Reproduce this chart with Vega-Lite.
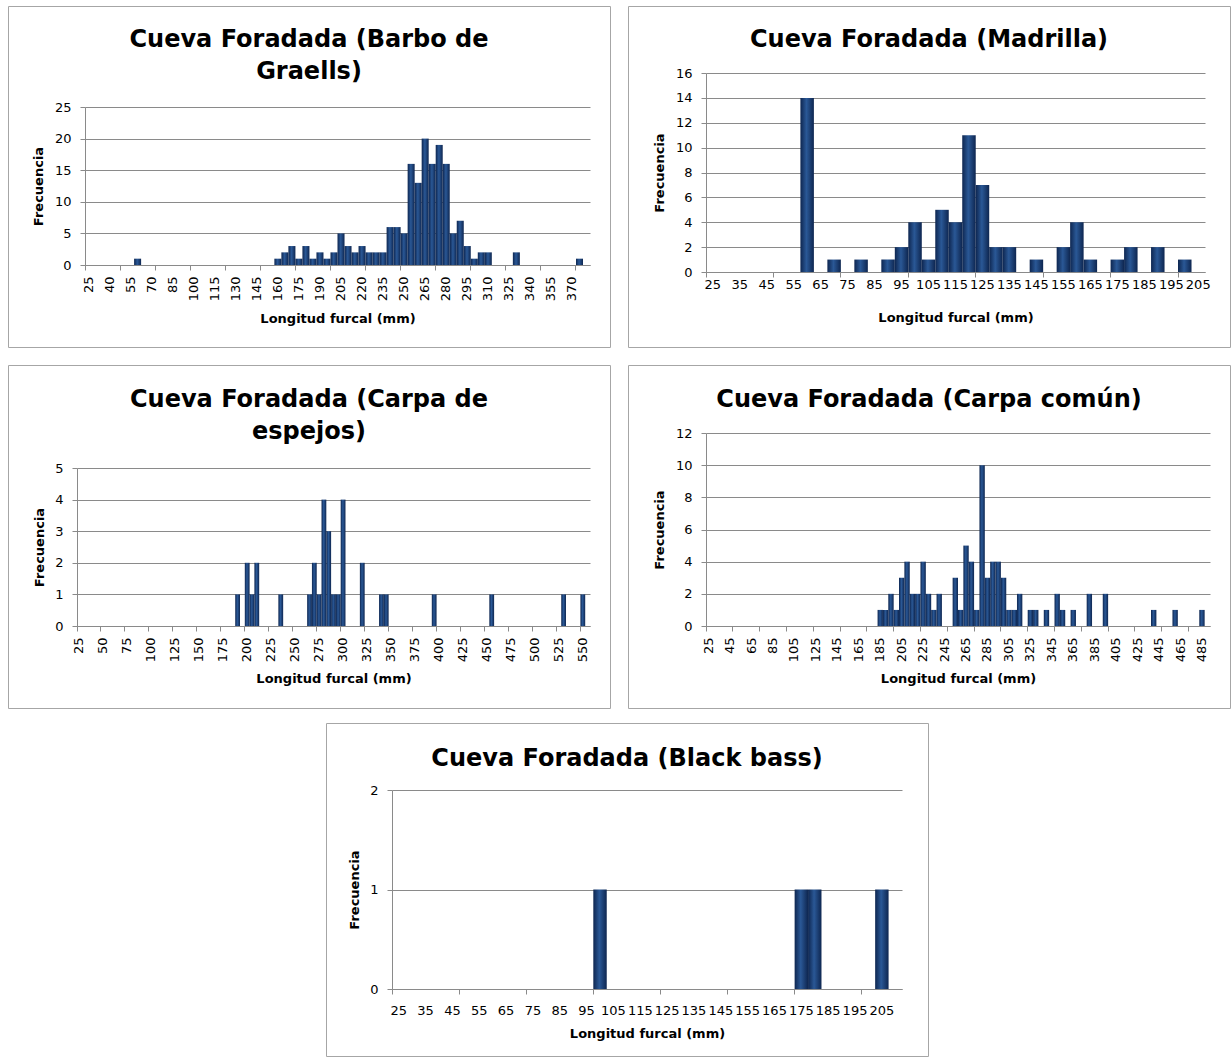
{
  "$schema": "https://vega.github.io/schema/vega-lite/v6.json",
  "padding": {"left": 7, "top": 5, "right": 0, "bottom": 0},
  "background": "white",
  "datasets": {
    "barbo": [
      {"L":"25","n":0},{"L":"30","n":0},{"L":"35","n":0},{"L":"40","n":0},{"L":"45","n":0},{"L":"50","n":0},{"L":"55","n":0},{"L":"60","n":1},{"L":"65","n":0},{"L":"70","n":0},
      {"L":"75","n":0},{"L":"80","n":0},{"L":"85","n":0},{"L":"90","n":0},{"L":"95","n":0},{"L":"100","n":0},{"L":"105","n":0},{"L":"110","n":0},{"L":"115","n":0},{"L":"120","n":0},
      {"L":"125","n":0},{"L":"130","n":0},{"L":"135","n":0},{"L":"140","n":0},{"L":"145","n":0},{"L":"150","n":0},{"L":"155","n":0},{"L":"160","n":1},{"L":"165","n":2},{"L":"170","n":3},
      {"L":"175","n":1},{"L":"180","n":3},{"L":"185","n":1},{"L":"190","n":2},{"L":"195","n":1},{"L":"200","n":2},{"L":"205","n":5},{"L":"210","n":3},{"L":"215","n":2},{"L":"220","n":3},
      {"L":"225","n":2},{"L":"230","n":2},{"L":"235","n":2},{"L":"240","n":6},{"L":"245","n":6},{"L":"250","n":5},{"L":"255","n":16},{"L":"260","n":13},{"L":"265","n":20},{"L":"270","n":16},
      {"L":"275","n":19},{"L":"280","n":16},{"L":"285","n":5},{"L":"290","n":7},{"L":"295","n":3},{"L":"300","n":1},{"L":"305","n":2},{"L":"310","n":2},{"L":"315","n":0},{"L":"320","n":0},
      {"L":"325","n":0},{"L":"330","n":2},{"L":"335","n":0},{"L":"340","n":0},{"L":"345","n":0},{"L":"350","n":0},{"L":"355","n":0},{"L":"360","n":0},{"L":"365","n":0},{"L":"370","n":0},
      {"L":"375","n":1},{"L":"y mayor...","n":0}
    ],
    "madrilla": [
      {"L":"25","n":0},{"L":"30","n":0},{"L":"35","n":0},{"L":"40","n":0},{"L":"45","n":0},{"L":"50","n":0},{"L":"55","n":0},{"L":"60","n":14},{"L":"65","n":0},{"L":"70","n":1},
      {"L":"75","n":0},{"L":"80","n":1},{"L":"85","n":0},{"L":"90","n":1},{"L":"95","n":2},{"L":"100","n":4},{"L":"105","n":1},{"L":"110","n":5},{"L":"115","n":4},{"L":"120","n":11},
      {"L":"125","n":7},{"L":"130","n":2},{"L":"135","n":2},{"L":"140","n":0},{"L":"145","n":1},{"L":"150","n":0},{"L":"155","n":2},{"L":"160","n":4},{"L":"165","n":1},{"L":"170","n":0},
      {"L":"175","n":1},{"L":"180","n":2},{"L":"185","n":0},{"L":"190","n":2},{"L":"195","n":0},{"L":"200","n":1},{"L":"205","n":0}
    ],
    "espejos": [
      {"L":"25","n":0},{"L":"30","n":0},{"L":"35","n":0},{"L":"40","n":0},{"L":"45","n":0},{"L":"50","n":0},{"L":"55","n":0},{"L":"60","n":0},{"L":"65","n":0},{"L":"70","n":0},
      {"L":"75","n":0},{"L":"80","n":0},{"L":"85","n":0},{"L":"90","n":0},{"L":"95","n":0},{"L":"100","n":0},{"L":"105","n":0},{"L":"110","n":0},{"L":"115","n":0},{"L":"120","n":0},
      {"L":"125","n":0},{"L":"130","n":0},{"L":"135","n":0},{"L":"140","n":0},{"L":"145","n":0},{"L":"150","n":0},{"L":"155","n":0},{"L":"160","n":0},{"L":"165","n":0},{"L":"170","n":0},
      {"L":"175","n":0},{"L":"180","n":0},{"L":"185","n":0},{"L":"190","n":1},{"L":"195","n":0},{"L":"200","n":2},{"L":"205","n":1},{"L":"210","n":2},{"L":"215","n":0},{"L":"220","n":0},
      {"L":"225","n":0},{"L":"230","n":0},{"L":"235","n":1},{"L":"240","n":0},{"L":"245","n":0},{"L":"250","n":0},{"L":"255","n":0},{"L":"260","n":0},{"L":"265","n":1},{"L":"270","n":2},
      {"L":"275","n":1},{"L":"280","n":4},{"L":"285","n":3},{"L":"290","n":1},{"L":"295","n":1},{"L":"300","n":4},{"L":"305","n":0},{"L":"310","n":0},{"L":"315","n":0},{"L":"320","n":2},
      {"L":"325","n":0},{"L":"330","n":0},{"L":"335","n":0},{"L":"340","n":1},{"L":"345","n":1},{"L":"350","n":0},{"L":"355","n":0},{"L":"360","n":0},{"L":"365","n":0},{"L":"370","n":0},
      {"L":"375","n":0},{"L":"380","n":0},{"L":"385","n":0},{"L":"390","n":0},{"L":"395","n":1},{"L":"400","n":0},{"L":"405","n":0},{"L":"410","n":0},{"L":"415","n":0},{"L":"420","n":0},
      {"L":"425","n":0},{"L":"430","n":0},{"L":"435","n":0},{"L":"440","n":0},{"L":"445","n":0},{"L":"450","n":0},{"L":"455","n":1},{"L":"460","n":0},{"L":"465","n":0},{"L":"470","n":0},
      {"L":"475","n":0},{"L":"480","n":0},{"L":"485","n":0},{"L":"490","n":0},{"L":"495","n":0},{"L":"500","n":0},{"L":"505","n":0},{"L":"510","n":0},{"L":"515","n":0},{"L":"520","n":0},
      {"L":"525","n":0},{"L":"530","n":1},{"L":"535","n":0},{"L":"540","n":0},{"L":"545","n":0},{"L":"550","n":1},{"L":"y mayor...","n":0}
    ],
    "comun": [
      {"L":"25","n":0},{"L":"30","n":0},{"L":"35","n":0},{"L":"40","n":0},{"L":"45","n":0},{"L":"50","n":0},{"L":"55","n":0},{"L":"60","n":0},{"L":"65","n":0},{"L":"70","n":0},
      {"L":"75","n":0},{"L":"80","n":0},{"L":"85","n":0},{"L":"90","n":0},{"L":"95","n":0},{"L":"100","n":0},{"L":"105","n":0},{"L":"110","n":0},{"L":"115","n":0},{"L":"120","n":0},
      {"L":"125","n":0},{"L":"130","n":0},{"L":"135","n":0},{"L":"140","n":0},{"L":"145","n":0},{"L":"150","n":0},{"L":"155","n":0},{"L":"160","n":0},{"L":"165","n":0},{"L":"170","n":0},
      {"L":"175","n":0},{"L":"180","n":0},{"L":"185","n":1},{"L":"190","n":1},{"L":"195","n":2},{"L":"200","n":1},{"L":"205","n":3},{"L":"210","n":4},{"L":"215","n":2},{"L":"220","n":2},
      {"L":"225","n":4},{"L":"230","n":2},{"L":"235","n":1},{"L":"240","n":2},{"L":"245","n":0},{"L":"250","n":0},{"L":"255","n":3},{"L":"260","n":1},{"L":"265","n":5},{"L":"270","n":4},
      {"L":"275","n":1},{"L":"280","n":10},{"L":"285","n":3},{"L":"290","n":4},{"L":"295","n":4},{"L":"300","n":3},{"L":"305","n":1},{"L":"310","n":1},{"L":"315","n":2},{"L":"320","n":0},
      {"L":"325","n":1},{"L":"330","n":1},{"L":"335","n":0},{"L":"340","n":1},{"L":"345","n":0},{"L":"350","n":2},{"L":"355","n":1},{"L":"360","n":0},{"L":"365","n":1},{"L":"370","n":0},
      {"L":"375","n":0},{"L":"380","n":2},{"L":"385","n":0},{"L":"390","n":0},{"L":"395","n":2},{"L":"400","n":0},{"L":"405","n":0},{"L":"410","n":0},{"L":"415","n":0},{"L":"420","n":0},
      {"L":"425","n":0},{"L":"430","n":0},{"L":"435","n":0},{"L":"440","n":1},{"L":"445","n":0},{"L":"450","n":0},{"L":"455","n":0},{"L":"460","n":1},{"L":"465","n":0},{"L":"470","n":0},
      {"L":"475","n":0},{"L":"480","n":0},{"L":"485","n":1},{"L":"y mayor...","n":0}
    ],
    "blackbass": [
      {"L":"25","n":0},{"L":"30","n":0},{"L":"35","n":0},{"L":"40","n":0},{"L":"45","n":0},{"L":"50","n":0},{"L":"55","n":0},{"L":"60","n":0},{"L":"65","n":0},{"L":"70","n":0},
      {"L":"75","n":0},{"L":"80","n":0},{"L":"85","n":0},{"L":"90","n":0},{"L":"95","n":0},{"L":"100","n":1},{"L":"105","n":0},{"L":"110","n":0},{"L":"115","n":0},{"L":"120","n":0},
      {"L":"125","n":0},{"L":"130","n":0},{"L":"135","n":0},{"L":"140","n":0},{"L":"145","n":0},{"L":"150","n":0},{"L":"155","n":0},{"L":"160","n":0},{"L":"165","n":0},{"L":"170","n":0},
      {"L":"175","n":1},{"L":"180","n":1},{"L":"185","n":0},{"L":"190","n":0},{"L":"195","n":0},{"L":"200","n":0},{"L":"205","n":1},{"L":"y mayor...","n":0}
    ]
  },
  "vconcat": [
    {
      "vconcat": [
        {
          "hconcat": [
            {
              "data": {"name": "barbo"},
              "title": {"text": ["Cueva Foradada (Barbo de", "Graells)"], "offset": -78},
              "width": 602, "height": 341,
              "view": {"stroke": "#a6a6a6", "fill": "white"},
              "layer": [
                {
                  "mark": {"type": "bar", "fill": {"gradient": "linear", "x1": 0, "y1": 0, "x2": 1, "y2": 0, "stops": [{"offset": 0, "color": "#0e2650"}, {"offset": 0.45, "color": "#2a5896"}, {"offset": 1, "color": "#0e2650"}]}},
                  "encoding": {
                    "x": {"field": "L", "type": "ordinal", "sort": null, "scale": {"range": [77, 582], "paddingInner": 0, "paddingOuter": 0},
                          "axis": {"orient": "bottom", "offset": -82, "title": "Longitud furcal (mm)", "labelAngle": -90, "labelPadding": 11, "titlePadding": 12, "ticks": false,
                                   "values": ["25","40","55","70","85","100","115","130","145","160","175","190","205","220","235","250","265","280","295","310","325","340","355","370"]}},
                    "y": {"field": "n", "type": "quantitative", "scale": {"domain": [0, 25], "range": [259, 101], "nice": false, "zero": true},
                          "axis": {"title": "Frecuencia", "offset": -77, "values": [0,5,10,15,20,25], "tickCount": 30, "format": "d"}}
                  }
                },
                {
                  "mark": {"type": "bar", "opacity": 0},
                  "encoding": {
                    "x": {"field": "L", "type": "ordinal", "sort": null,
                          "axis": {"orient": "bottom", "offset": -82, "title": null, "labels": false, "domain": false, "ticks": true, "bandPosition": 0,
                                   "values": ["25","50","75","100","125","150","175","200","225","250","275","300","325","350","375"]}}
                  }
                }
              ],
              "resolve": {"axis": {"x": "independent"}}
            },
            {
              "data": {"name": "madrilla"},
              "title": {"text": "Cueva Foradada (Madrilla)", "offset": -46},
              "width": 602, "height": 341,
              "view": {"stroke": "#a6a6a6", "fill": "white"},
              "layer": [
                {
                  "mark": {"type": "bar", "fill": {"gradient": "linear", "x1": 0, "y1": 0, "x2": 1, "y2": 0, "stops": [{"offset": 0, "color": "#0e2650"}, {"offset": 0.45, "color": "#2a5896"}, {"offset": 1, "color": "#0e2650"}]}},
                  "encoding": {
                    "x": {"field": "L", "type": "ordinal", "sort": null, "scale": {"range": [78, 577], "paddingInner": 0, "paddingOuter": 0},
                          "axis": {"orient": "bottom", "offset": -75, "title": "Longitud furcal (mm)", "labelAngle": 0, "labelPadding": 6, "titlePadding": 20, "ticks": false,
                                   "values": ["25","35","45","55","65","75","85","95","105","115","125","135","145","155","165","175","185","195","205"]}},
                    "y": {"field": "n", "type": "quantitative", "scale": {"domain": [0, 16], "range": [266, 67], "nice": false, "zero": true},
                          "axis": {"title": "Frecuencia", "offset": -78, "values": [0,2,4,6,8,10,12,14,16], "tickCount": 30, "format": "d"}}
                  }
                },
                {
                  "mark": {"type": "bar", "opacity": 0},
                  "encoding": {
                    "x": {"field": "L", "type": "ordinal", "sort": null,
                          "axis": {"orient": "bottom", "offset": -75, "title": null, "labels": false, "domain": false, "ticks": true, "bandPosition": 0,
                                   "values": ["25","50","75","100","125","150","175","200"]}}
                  }
                }
              ],
              "resolve": {"axis": {"x": "independent"}}
            }
          ],
          "spacing": 16
        },
        {
          "hconcat": [
            {
              "data": {"name": "espejos"},
              "title": {"text": ["Cueva Foradada (Carpa de", "espejos)"], "offset": -79},
              "width": 602, "height": 343,
              "view": {"stroke": "#a6a6a6", "fill": "white"},
              "layer": [
                {
                  "mark": {"type": "bar", "fill": {"gradient": "linear", "x1": 0, "y1": 0, "x2": 1, "y2": 0, "stops": [{"offset": 0, "color": "#0e2650"}, {"offset": 0.45, "color": "#2a5896"}, {"offset": 1, "color": "#0e2650"}]}},
                  "encoding": {
                    "x": {"field": "L", "type": "ordinal", "sort": null, "scale": {"range": [69, 582], "paddingInner": 0, "paddingOuter": 0},
                          "axis": {"orient": "bottom", "offset": -82, "title": "Longitud furcal (mm)", "labelAngle": -90, "labelPadding": 11, "titlePadding": 11, "ticks": false,
                                   "values": ["25","50","75","100","125","150","175","200","225","250","275","300","325","350","375","400","425","450","475","500","525","550"]}},
                    "y": {"field": "n", "type": "quantitative", "scale": {"domain": [0, 5], "range": [261, 103], "nice": false, "zero": true},
                          "axis": {"title": "Frecuencia", "offset": -69, "values": [0,1,2,3,4,5], "tickCount": 30, "format": "d"}}
                  }
                },
                {
                  "mark": {"type": "bar", "opacity": 0},
                  "encoding": {
                    "x": {"field": "L", "type": "ordinal", "sort": null,
                          "axis": {"orient": "bottom", "offset": -82, "title": null, "labels": false, "domain": false, "ticks": true, "bandPosition": 0,
                                   "values": ["25","50","75","100","125","150","175","200","225","250","275","300","325","350","375","400","425","450","475","500","525","550"]}}
                  }
                }
              ],
              "resolve": {"axis": {"x": "independent"}}
            },
            {
              "data": {"name": "comun"},
              "title": {"text": "Cueva Foradada (Carpa común)", "offset": -47},
              "width": 602, "height": 343,
              "view": {"stroke": "#a6a6a6", "fill": "white"},
              "layer": [
                {
                  "mark": {"type": "bar", "fill": {"gradient": "linear", "x1": 0, "y1": 0, "x2": 1, "y2": 0, "stops": [{"offset": 0, "color": "#0e2650"}, {"offset": 0.45, "color": "#2a5896"}, {"offset": 1, "color": "#0e2650"}]}},
                  "encoding": {
                    "x": {"field": "L", "type": "ordinal", "sort": null, "scale": {"range": [78, 582], "paddingInner": 0, "paddingOuter": 0},
                          "axis": {"orient": "bottom", "offset": -82, "title": "Longitud furcal (mm)", "labelAngle": -90, "labelPadding": 11, "titlePadding": 11, "ticks": false,
                                   "values": ["25","45","65","85","105","125","145","165","185","205","225","245","265","285","305","325","345","365","385","405","425","445","465","485"]}},
                    "y": {"field": "n", "type": "quantitative", "scale": {"domain": [0, 12], "range": [261, 68], "nice": false, "zero": true},
                          "axis": {"title": "Frecuencia", "offset": -78, "values": [0,2,4,6,8,10,12], "tickCount": 30, "format": "d"}}
                  }
                },
                {
                  "mark": {"type": "bar", "opacity": 0},
                  "encoding": {
                    "x": {"field": "L", "type": "ordinal", "sort": null,
                          "axis": {"orient": "bottom", "offset": -82, "title": null, "labels": false, "domain": false, "ticks": true, "bandPosition": 0,
                                   "values": ["25","50","75","100","125","150","175","200","225","250","275","300","325","350","375","400","425","450","475"]}}
                  }
                }
              ],
              "resolve": {"axis": {"x": "independent"}}
            }
          ],
          "spacing": 16
        }
      ],
      "spacing": 16
    },
    {
      "hconcat": [
        {
          "data": {"values": []},
          "mark": "point",
          "width": 301, "height": 333,
          "view": {"stroke": null}
        },
        {
          "data": {"name": "blackbass"},
          "title": {"text": "Cueva Foradada (Black bass)", "offset": -48},
          "width": 602, "height": 333,
          "view": {"stroke": "#a6a6a6", "fill": "white"},
          "layer": [
            {
              "mark": {"type": "bar", "fill": {"gradient": "linear", "x1": 0, "y1": 0, "x2": 1, "y2": 0, "stops": [{"offset": 0, "color": "#0e2650"}, {"offset": 0.45, "color": "#2a5896"}, {"offset": 1, "color": "#0e2650"}]}},
              "encoding": {
                "x": {"field": "L", "type": "ordinal", "sort": null, "scale": {"range": [66, 576], "paddingInner": 0, "paddingOuter": 0},
                      "axis": {"orient": "bottom", "offset": -67, "title": "Longitud furcal (mm)", "labelAngle": 0, "labelPadding": 15, "titlePadding": 10, "ticks": false,
                               "values": ["25","35","45","55","65","75","85","95","105","115","125","135","145","155","165","175","185","195","205"]}},
                "y": {"field": "n", "type": "quantitative", "scale": {"domain": [0, 2], "range": [266, 67], "nice": false, "zero": true},
                      "axis": {"title": "Frecuencia", "offset": -66, "values": [0,2], "tickCount": 30, "format": "d"}}
              }
            },
            {
              "mark": {"type": "bar", "opacity": 0},
              "encoding": {
                "x": {"field": "L", "type": "ordinal", "sort": null,
                      "axis": {"orient": "bottom", "offset": -67, "title": null, "labels": false, "domain": false, "ticks": true, "bandPosition": 0,
                               "values": ["25","50","75","100","125","150","175","200"]}},
                "y": {"field": "n", "type": "quantitative",
                      "axis": {"orient": "left", "offset": -66, "title": null, "domain": false, "grid": true, "values": [1], "tickCount": 30, "format": "d"}}
              }
            }
          ],
          "resolve": {"axis": {"x": "independent", "y": "independent"}}
        }
      ],
      "spacing": 16
    }
  ],
  "spacing": 13,
  "config": {
    "font": "DejaVu Sans",
    "view": {"stroke": null},
    "axis": {"labelFont": "DejaVu Sans", "labelFontSize": 13, "labelColor": "#000", "titleFont": "DejaVu Sans", "titleFontSize": 13, "titleFontWeight": "bold", "titleColor": "#000", "domainColor": "#8a8a8a", "tickColor": "#8a8a8a", "gridColor": "#8a8a8a", "tickSize": 5},
    "axisX": {"grid": false, "labelOverlap": false},
    "axisY": {"grid": true, "labelPadding": 9, "titlePadding": 8.5, "domain": true, "labelOverlap": false},
    "title": {"font": "DejaVu Sans", "fontSize": 24, "fontWeight": "bold", "color": "#000", "anchor": "middle", "frame": "group", "lineHeight": 32}
  }
}
